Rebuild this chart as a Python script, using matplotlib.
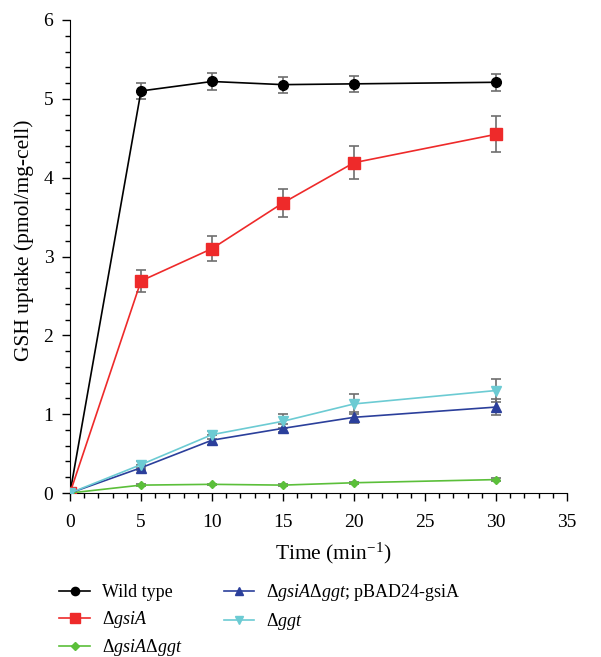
import numpy as np
import matplotlib.pyplot as plt

plt.rcParams['font.family'] = 'Liberation Serif'
plt.rcParams['mathtext.fontset'] = 'custom'
plt.rcParams['mathtext.rm'] = 'Liberation Serif'
plt.rcParams['mathtext.it'] = 'Liberation Serif:italic'

time = [0, 5, 10, 15, 20, 30]

wild = [0, 5.10, 5.22, 5.18, 5.19, 5.21]
wild_err = [0, 0.10, 0.11, 0.10, 0.10, 0.11]

gsia = [0, 2.69, 3.10, 3.68, 4.19, 4.55]
gsia_err = [0, 0.14, 0.155, 0.18, 0.21, 0.23]

double = [0, 0.10, 0.11, 0.10, 0.13, 0.17]
double_err = [0, 0.01, 0.01, 0.01, 0.015, 0.015]

rescue = [0, 0.32, 0.67, 0.82, 0.96, 1.09]
rescue_err = [0, 0.03, 0.06, 0.05, 0.07, 0.10]

ggt = [0, 0.36, 0.74, 0.91, 1.13, 1.30]
ggt_err = [0, 0.04, 0.05, 0.09, 0.13, 0.14]

ERR_COLOR = '#6e6e6e'

fig = plt.figure(figsize=(6.01, 6.57), dpi=100)
ax = fig.add_axes([70 / 601, 1 - 493 / 657, 497 / 601, 473 / 657])

series = [
    (wild, wild_err, 'black', 'o', 7, 'Wild type'),
    (gsia, gsia_err, '#ee2a2a', 's', 8, r'$\Delta\mathit{gsiA}$'),
    (double, double_err, '#5bbf3a', 'D', 4.5, r'$\Delta\mathit{gsiA}\Delta\mathit{ggt}$'),
    (rescue, rescue_err, '#2b3f9b', '^', 6.5, r'$\Delta\mathit{gsiA}\Delta\mathit{ggt}$; pBAD24-gsiA'),
    (ggt, ggt_err, '#6ccbd3', 'v', 6.5, r'$\Delta\mathit{ggt}$'),
]

handles = []
for y, err, col, mk, ms, lab in series:
    ax.errorbar(time, y, yerr=err, fmt='none', ecolor=ERR_COLOR, elinewidth=1.2,
                capsize=3.5, capthick=1.2, zorder=2)
    h, = ax.plot(time, y, color=col, marker=mk, markersize=ms, lw=1.2,
                 label=lab, zorder=3)
    handles.append(h)

ax.set_xlim(0, 35)
ax.set_ylim(0, 6)
ax.set_xticks(range(0, 36, 5))
ax.set_xticks(range(0, 36), minor=True)
ax.set_yticks(range(0, 7))
ax.set_yticks(np.arange(0, 6.01, 0.2), minor=True)
ax.spines['top'].set_visible(False)
ax.spines['right'].set_visible(False)
ax.tick_params(which='major', direction='out', length=6, width=1, labelsize=14)
ax.tick_params(which='minor', direction='out', length=3.5, width=1)
ax.tick_params(axis='x', which='major', pad=9)
ax.tick_params(axis='y', which='major', pad=6)

ax.set_xlabel(r'Time (min$^{-1}$)', fontsize=15.5)
ax.set_ylabel('GSH uptake (pmol/mg-cell)', fontsize=15.5)
ax.xaxis.set_label_coords(0.53, -0.1)
ax.yaxis.set_label_coords(-0.072, 0.535)

fig.legend(handles=handles, labels=[h.get_label() for h in handles], ncol=2,
           loc='upper left', bbox_to_anchor=(43 / 601, 1 - 566 / 657),
           frameon=False, fontsize=13, handlelength=1.7, labelspacing=0.42,
           columnspacing=2.3, handletextpad=0.65, markerscale=0.85)

fig.savefig('out.png', dpi=100)
